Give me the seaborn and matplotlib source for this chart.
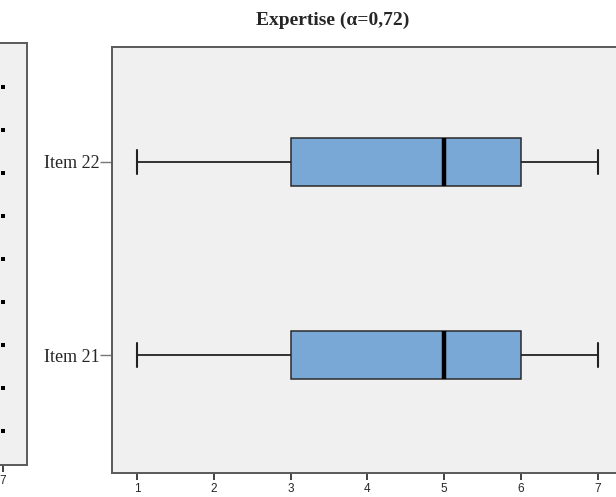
import matplotlib
matplotlib.use("Agg")
import matplotlib.pyplot as plt
import seaborn as sns
import pandas as pd

# ---- data ----
items = ["Item 22", "Item 21"]
item_22 = [1, 2, 3, 3, 4, 5, 5, 5, 6, 6, 6, 7]
item_21 = [1, 2, 3, 3, 4, 5, 5, 5, 6, 6, 6, 7]
x_ticks = [1, 2, 3, 4, 5, 6, 7]
title = "Expertise (\u03b1=0,72)"
# neighbouring (cropped) panel: points at value 7 for its rows
left_rows = [0, 1, 2, 3, 4, 5, 6, 7, 8]
left_vals = [7, 7, 7, 7, 7, 7, 7, 7, 7]

df = pd.DataFrame({
    "item": ["Item 22"] * len(item_22) + ["Item 21"] * len(item_21),
    "value": item_22 + item_21,
})
left_df = pd.DataFrame({"row": left_rows, "value": left_vals})

sns.set_style("white")
W, H = 616, 497
fig = plt.figure(figsize=(W / 100, H / 100), dpi=100)
fig.patch.set_facecolor("white")

bg = "#F0F0F0"
spine_c = "#5A5A5A"
ppu = 76.8  # pixels per unit on x

# main axes
ax = fig.add_axes([112 / W, (H - 473) / H, 510 / W, (473 - 47) / H])
ax.set_facecolor(bg)
sns.boxplot(data=df, x="value", y="item", order=items, orient="h", ax=ax,
            width=0.25, color="#79A7D6", saturation=1, linecolor="#222222",
            linewidth=1.1, whis=(0, 100),
            medianprops=dict(color="black", linewidth=3.2),
            whiskerprops=dict(color="#222222", linewidth=1.3),
            capprops=dict(color="#222222", linewidth=1.5),
            boxprops=dict(edgecolor="#2A2A2A", linewidth=1.1))
ax.set_xlim(1 - 25 / ppu, 1 - 25 / ppu + 510 / ppu)
ax.set_ylim(1 + (473 - 355) / 193, 0 - (162 - 47) / 193)
ax.set_xticks(x_ticks)
ax.set_xticklabels([str(t) for t in x_ticks], family="Liberation Sans", fontsize=8.5)
ax.set_yticks([0, 1])
ax.set_yticklabels(items, family="Liberation Serif", fontsize=13)
ax.tick_params(axis="x", length=5, width=1.3, color="#333333", pad=2, bottom=True)
ax.tick_params(axis="y", length=9, width=1.0, color="#777777", pad=0, left=True)
ax.set_xlabel("")
ax.set_ylabel("")
for s in ax.spines.values():
    s.set_color(spine_c)
    s.set_linewidth(1.4)
    s.set_visible(True)

# cropped left panel
axl = fig.add_axes([-300 / W, (H - 465) / H, 327 / W, (465 - 43) / H])
axl.set_facecolor(bg)
sns.scatterplot(data=left_df, x="value", y="row", ax=axl, marker="s", s=8,
                color="black", edgecolor="black", linewidth=0)
xmax = 7 + 24 / ppu
axl.set_xlim(xmax - 327 / ppu, xmax)
axl.set_ylim(8 + (465 - 431) / 43, 0 - (87 - 43) / 43)
axl.set_xticks([7])
axl.set_xticklabels(["7"], family="Liberation Sans", fontsize=8.5)
axl.set_yticks([])
axl.tick_params(axis="x", length=5, width=1.3, color="#333333", pad=2, bottom=True)
axl.set_xlabel("")
axl.set_ylabel("")
for s in axl.spines.values():
    s.set_color(spine_c)
    s.set_linewidth(1.4)
    s.set_visible(True)

fig.text(333 / W, 1 - 20 / H, title, ha="center", va="center",
         family="Liberation Serif", fontweight="bold", fontsize=14)

fig.savefig("out.png", dpi=100)
